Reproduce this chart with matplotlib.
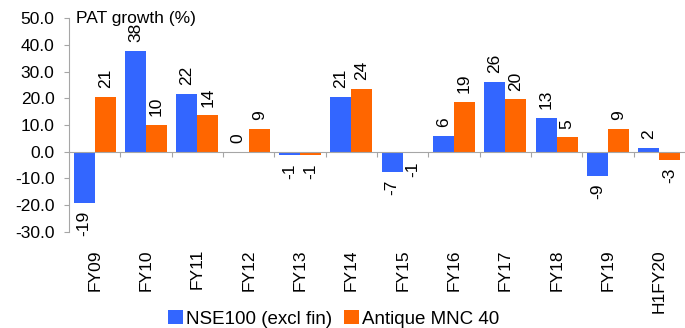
import numpy as np
import matplotlib
matplotlib.use('Agg')
import matplotlib.pyplot as plt
import matplotlib.transforms as mtransforms

plt.rcParams['font.family'] = ['Liberation Sans', 'DejaVu Sans']

# datos
categorias = ['FY09', 'FY10', 'FY11', 'FY12', 'FY13', 'FY14', 'FY15', 'FY16',
              'FY17', 'FY18', 'FY19', 'H1FY20']
nse100 = [-19.0, 37.8, 21.7, 0.0, -1.4, 20.6, -7.4, 6.0, 26.2, 12.7, -8.9, 1.5]
mnc40 = [20.6, 10.1, 13.7, 8.6, -1.4, 23.6, -0.6, 18.7, 19.6, 5.4, 8.6, -2.9]
etiquetas_serie = ['NSE100 (excl fin)', 'Antique MNC 40']
yticks = [-30, -20, -10, 0, 10, 20, 30, 40, 50]

azul = '#3366FF'
naranja = '#FF6600'
gris = '#A6A6A6'
fs = 12.5

fig = plt.figure(figsize=(6.85, 3.28), dpi=100)
ax = fig.add_axes([0.1007, 0.2927, 0.8993, 0.6524])

x = np.arange(len(categorias))
ancho = 0.41
b1 = ax.bar(x - ancho / 2, nse100, ancho, color=azul, label=etiquetas_serie[0])
b2 = ax.bar(x + ancho / 2, mnc40, ancho, color=naranja, label=etiquetas_serie[1])

ax.bar_label(b1, fmt='%.0f', rotation=90, padding=6, fontsize=fs)
ax.bar_label(b2, fmt='%.0f', rotation=90, padding=6, fontsize=fs)

ax.set_xlim(-0.5, len(categorias) - 0.5)
ax.set_ylim(-30, 50)
ax.set_yticks(yticks)
ax.set_yticklabels([f'{v:.1f}' for v in yticks], fontsize=fs)

# eje x en cero con marcas entre categorias
ax.spines['bottom'].set_position(('data', 0))
ax.spines['bottom'].set_color(gris)
ax.spines['left'].set_color(gris)
ax.spines['top'].set_visible(False)
ax.spines['right'].set_visible(False)
ax.set_xticks(x[:-1] + 0.5)
ax.set_xticklabels([])
ax.tick_params(axis='x', direction='out', length=3.5, color=gris)
ax.tick_params(axis='y', direction='out', length=3.5, color=gris, pad=7)

# etiquetas de categoria debajo del area del grafico
trans = mtransforms.blended_transform_factory(ax.transData, ax.transAxes)
for xi, cat in zip(x, categorias):
    ax.text(xi, -0.08, cat, rotation=90, ha='center', va='top',
            fontsize=fs, transform=trans)

ax.text(0.012, 50, 'PAT growth (%)', ha='left', va='center', fontsize=fs,
        transform=mtransforms.blended_transform_factory(ax.transAxes, ax.transData))

fig.legend(handles=[b1, b2], labels=etiquetas_serie, loc='lower center',
           bbox_to_anchor=(0.487, -0.05), ncol=2, frameon=False, fontsize=13.5,
           handlelength=0.8, handleheight=0.8, handletextpad=0.2,
           columnspacing=0.6)

fig.savefig('out.png', dpi=100)
